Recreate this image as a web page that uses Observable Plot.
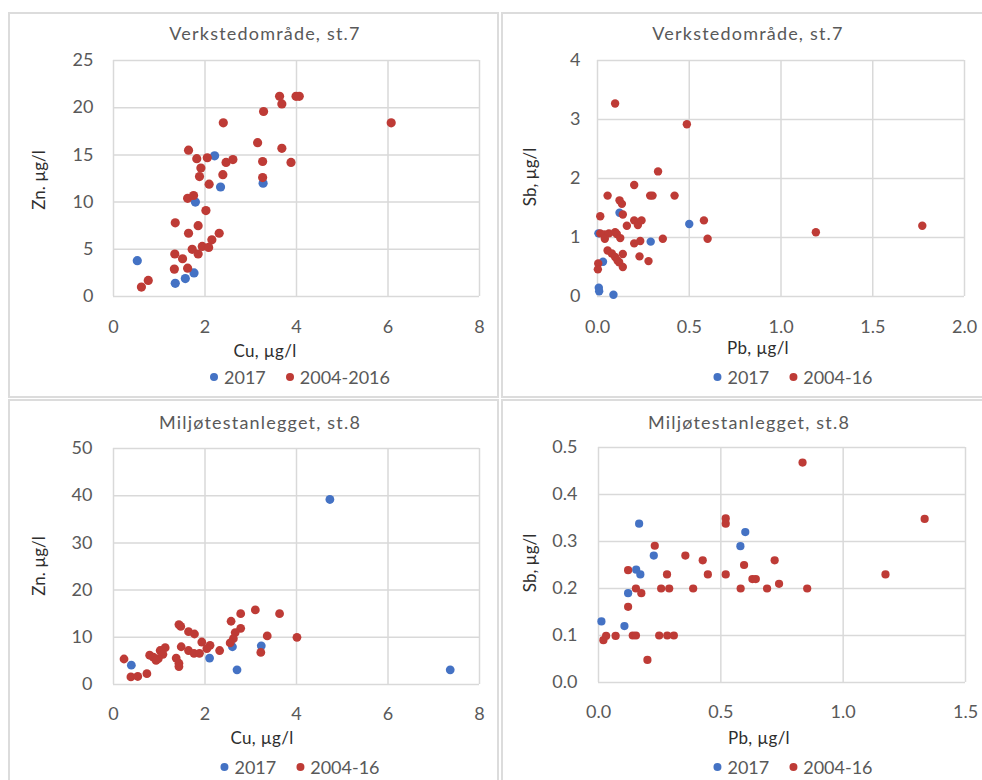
<!DOCTYPE html>
<html><head><meta charset="utf-8">
<script src="https://cdn.jsdelivr.net/npm/d3@7"></script>
<script src="https://cdn.jsdelivr.net/npm/@observablehq/plot@0.6"></script>
<style>
body{margin:0;background:#fff;font-family:Lato,"Open Sans",sans-serif;}
#wrap{position:relative;width:982px;height:780px;overflow:hidden;background:#fff;}
.box{position:absolute;border:2px solid #dcdcdc;box-sizing:border-box;}
.t{position:absolute;white-space:nowrap;transform:translate(-50%,-50%);line-height:1;}
.title{font-size:18px;color:#595959;letter-spacing:1.2px;}
.alab{font-size:17px;color:#2e2e2e;letter-spacing:0.3px;}
.ylab{transform:translate(-50%,-50%) rotate(-90deg);letter-spacing:0;}
.leg{font-size:18px;color:#595959;display:flex;align-items:center;}
.dot{display:inline-block;width:8px;height:8px;border-radius:50%;margin-right:6px;}
.plot{position:absolute;}
</style></head><body><div id="wrap"></div>
<script>
// ---- Data ----
const BLUE = "#4472c4", RED = "#be3b36";

// Panel 1: Verkstedområde, st.7 — Cu vs Zn
const p1_2017_cu = [2.21,2.34,3.27,1.79,0.52,1.76,1.57,1.35];
const p1_2017_zn = [14.9,11.6,12.0,10.0,3.8,2.5,1.9,1.4];
const p1_old_cu = [3.63,3.68,3.99,4.06,3.28,2.40,6.07,3.15,3.68,1.64,1.82,2.05,2.46,2.61,3.26,3.88,1.91,2.39,1.88,3.26,2.09,1.62,1.75,2.02,1.35,1.85,1.64,2.31,2.15,1.72,1.94,2.08,1.85,1.34,1.51,1.33,1.62,0.76,0.61];
const p1_old_zn = [21.2,20.4,21.2,21.2,19.6,18.4,18.4,16.3,15.7,15.5,14.6,14.7,14.2,14.5,14.3,14.2,13.6,12.9,12.7,12.6,11.9,10.4,10.7,9.1,7.8,7.5,6.7,6.7,6.0,5.0,5.3,5.2,4.5,4.5,4.0,2.9,3.0,1.7,1.0];
const p1_xticks = [0,2,4,6,8];
const p1_yticks = [0,5,10,15,20,25];

// Panel 2: Verkstedområde, st.7 — Pb vs Sb
const p2_2017_pb = [0.12,0.50,0.29,0.005,0.03,0.007,0.009,0.087];
const p2_2017_sb = [1.42,1.23,0.93,1.07,0.59,0.15,0.09,0.03];
const p2_old_pb = [0.096,0.487,0.33,0.20,0.055,0.287,0.30,0.42,0.12,0.133,0.015,0.138,0.58,0.16,0.20,0.22,0.24,1.77,1.19,0.015,0.038,0.062,0.096,0.105,0.04,0.124,0.356,0.60,0.20,0.233,0.055,0.078,0.138,0.096,0.109,0.118,0.229,0.278,0.138,0.004,0.002];
const p2_old_sb = [3.27,2.92,2.12,1.89,1.71,1.71,1.71,1.71,1.63,1.57,1.36,1.39,1.29,1.20,1.29,1.21,1.29,1.20,1.09,1.07,1.05,1.07,1.09,1.06,0.98,0.99,0.98,0.98,0.90,0.94,0.78,0.73,0.72,0.67,0.61,0.58,0.68,0.60,0.50,0.56,0.46];
const p2_xticks = [0,0.5,1.0,1.5,2.0];
const p2_yticks = [0,1,2,3,4];

// Panel 3: Miljøtestanlegget, st.8 — Cu vs Zn
const p3_2017_cu = [4.73,7.36,2.70,0.39,2.10,2.60,3.23];
const p3_2017_zn = [39.2,3.1,3.1,4.1,5.6,8.0,8.2];
const p3_old_cu = [3.10,3.63,2.78,2.57,2.78,2.66,2.62,2.55,3.36,4.01,1.43,1.47,1.64,1.77,1.93,2.11,2.04,2.32,1.48,1.64,1.76,1.88,3.22,1.37,1.43,1.43,1.13,1.02,1.08,0.98,0.79,0.87,0.93,0.23,0.38,0.53,0.73];
const p3_old_zn = [15.8,15.0,15.0,13.4,11.9,11.0,9.7,8.8,10.3,10.0,12.7,12.3,11.2,10.7,9.0,8.3,7.6,7.2,8.0,7.2,6.6,6.6,6.8,5.6,4.5,3.8,7.8,7.2,6.4,5.5,6.2,5.8,5.1,5.4,1.6,1.7,2.3];
const p3_xticks = [0,2,4,6,8];
const p3_yticks = [0,10,20,30,40,50];

// Panel 4: Miljøtestanlegget, st.8 — Pb vs Sb
const p4_2017_pb = [0.166,0.60,0.58,0.226,0.154,0.171,0.121,0.012,0.106];
const p4_2017_sb = [0.338,0.32,0.29,0.27,0.24,0.23,0.19,0.13,0.12];
const p4_old_pb = [0.834,1.333,0.52,0.52,0.23,0.355,0.426,0.72,0.595,0.447,0.52,0.28,1.173,0.629,0.643,0.738,0.121,0.153,0.175,0.256,0.289,0.387,0.581,0.689,0.853,0.121,0.02,0.031,0.07,0.14,0.153,0.248,0.281,0.308,0.20];
const p4_old_sb = [0.468,0.348,0.349,0.338,0.291,0.27,0.26,0.26,0.25,0.23,0.23,0.23,0.23,0.22,0.22,0.21,0.239,0.20,0.19,0.20,0.20,0.20,0.20,0.20,0.20,0.161,0.09,0.099,0.099,0.10,0.10,0.10,0.10,0.10,0.048];
const p4_xticks = [0,0.5,1.0,1.5];
const p4_yticks = [0,0.1,0.2,0.3,0.4,0.5];

const titles = ["Verkstedområde, st.7","Verkstedområde, st.7","Miljøtestanlegget, st.8","Miljøtestanlegget, st.8"];
const xLabels = ["Cu, µg/l","Pb, µg/l","Cu, µg/l","Pb, µg/l"];
const yLabels = ["Zn. µg/l","Sb, µg/l","Zn. µg/l","Sb, µg/l"];
const seriesNames = [["2017","2004-2016"],["2017","2004-16"],["2017","2004-16"],["2017","2004-16"]];

// ---- Layout ----
const wrap = document.getElementById("wrap");
function box(l,t,w,h){const d=document.createElement("div");d.className="box";Object.assign(d.style,{left:l+"px",top:t+"px",width:w+"px",height:h+"px"});wrap.appendChild(d);}
function txt(s,cls,x,y){const d=document.createElement("div");d.className="t "+cls;d.textContent=s;d.style.left=x+"px";d.style.top=y+"px";wrap.appendChild(d);return d;}
function legend(names,x,y){
  const d=document.createElement("div");d.className="t leg";d.style.left=x+"px";d.style.top=y+"px";
  [[BLUE,names[0]],[RED,names[1]]].forEach(([c,n],i)=>{
    const s=document.createElement("span");s.className="dot";s.style.background=c;if(i)s.style.marginLeft="20px";
    d.appendChild(s);d.appendChild(document.createTextNode(n));
  });
  wrap.appendChild(d);
}

box(8,12,491,386);
box(501,12,490,386);
box(8,399,491,390);
box(501,399,490,390);

const f1 = d3.format(".1f");
function panel(o){
  const blue = o.bx.map((x,i)=>({x,y:o.by[i]}));
  const red = o.rx.map((x,i)=>({x,y:o.ry[i]}));
  const svg = Plot.plot({
    width:o.w, height:o.h, marginLeft:o.ml, marginRight:o.mr, marginTop:o.mt, marginBottom:o.mb,
    style:{fontFamily:"Lato, sans-serif", fontSize:"18px", color:"#595959", background:"transparent", overflow:"visible"},
    x:{domain:[o.xt[0],o.xt[o.xt.length-1]]},
    y:{domain:[o.yt[0],o.yt[o.yt.length-1]]},
    marks:[
      Plot.gridX(o.xt,{stroke:"#d9d9d9",strokeOpacity:1,strokeWidth:1.5}),
      Plot.gridY(o.yt,{stroke:"#d9d9d9",strokeOpacity:1,strokeWidth:1.5}),
      Plot.axisX(o.xt,{tickSize:0,tickPadding:o.xpad,tickFormat:o.fx,label:null,fontSize:18}),
      Plot.axisY(o.yt,{tickSize:0,tickPadding:o.ypad,tickFormat:o.fy,label:null,fontSize:18}),
      Plot.dot(blue,{x:"x",y:"y",r:o.r,fill:BLUE}),
      Plot.dot(red,{x:"x",y:"y",r:o.r,fill:RED})
    ]
  });
  svg.classList.add("plot");
  svg.style.left=o.left+"px"; svg.style.top=o.top+"px";
  wrap.appendChild(svg);
}

panel({left:9,top:13,w:489,h:340,ml:104,mr:19,mt:47,mb:57,xpad:24,ypad:20,r:4.6,
  xt:p1_xticks,yt:p1_yticks,fx:d3.format("d"),fy:d3.format("d"),
  bx:p1_2017_cu,by:p1_2017_zn,rx:p1_old_cu,ry:p1_old_zn});
panel({left:502,top:13,w:480,h:340,ml:95,mr:18,mt:47,mb:57,xpad:24,ypad:17,r:4.2,
  xt:p2_xticks,yt:p2_yticks,fx:f1,fy:d3.format("d"),
  bx:p2_2017_pb,by:p2_2017_sb,rx:p2_old_pb,ry:p2_old_sb});
panel({left:9,top:400,w:489,h:340,ml:104,mr:19,mt:48,mb:56,xpad:23,ypad:21,r:4.4,
  xt:p3_xticks,yt:p3_yticks,fx:d3.format("d"),fy:d3.format("d"),
  bx:p3_2017_cu,by:p3_2017_zn,rx:p3_old_cu,ry:p3_old_zn});
panel({left:502,top:400,w:480,h:340,ml:96,mr:17,mt:47,mb:58,xpad:23,ypad:21,r:4.1,
  xt:p4_xticks,yt:p4_yticks,fx:f1,fy:f1,
  bx:p4_2017_pb,by:p4_2017_sb,rx:p4_old_pb,ry:p4_old_sb});

// titles
txt(titles[0],"title",265,33);
txt(titles[1],"title",748,33);
txt(titles[2],"title",260,422);
txt(titles[3],"title",749,422);
// axis labels
txt(xLabels[0],"alab",265,350);
txt(xLabels[1],"alab",758,347);
txt(xLabels[2],"alab",262,737);
txt(xLabels[3],"alab",759,737);
txt(yLabels[0],"alab ylab",38,180);
txt(yLabels[1],"alab ylab",529,177);
txt(yLabels[2],"alab ylab",38,566);
txt(yLabels[3],"alab ylab",529,563);
// legends
legend(seriesNames[0],300,377);
legend(seriesNames[1],793,377);
legend(seriesNames[2],300,767);
legend(seriesNames[3],793,767);
</script></body></html>
